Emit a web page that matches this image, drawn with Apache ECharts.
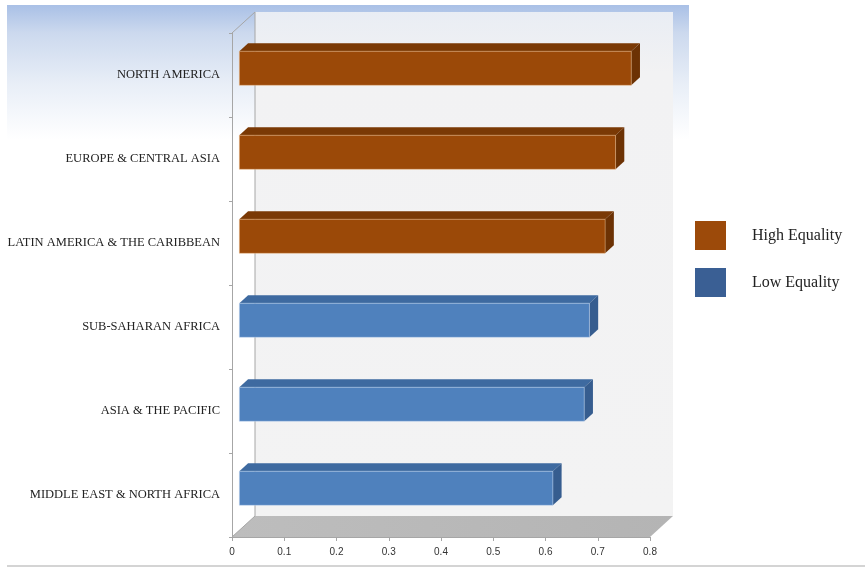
<!DOCTYPE html>
<html>
<head>
<meta charset="utf-8">
<title>Equality by region</title>
<script src="https://cdn.jsdelivr.net/npm/echarts@6/dist/echarts.min.js"></script>
<style>
  html, body { margin: 0; padding: 0; background: #ffffff; }
  #chart { width: 865px; height: 570px; }
</style>
</head>
<body>
<div id="chart"></div>
<script>
// Regions, top to bottom
const categories = [
  'NORTH AMERICA',
  'EUROPE & CENTRAL ASIA',
  'LATIN AMERICA & THE CARIBBEAN',
  'SUB-SAHARAN AFRICA',
  'ASIA & THE PACIFIC',
  'MIDDLE EAST & NORTH AFRICA'
];
// Index values per region, split by group (null = not in group)
const highEquality = [0.75, 0.72, 0.70, null, null, null];
const lowEquality  = [null, null, null, 0.67, 0.66, 0.60];
// Value axis ticks
const axisMin = 0;
const axisMax = 0.8;
const axisStep = 0.1;

// Plot frame
const GRID = { left: 232, right: 215, top: 33, bottom: 33 };
const W = 865, H = 570;
// Oblique depth of the 3-D box (back wall offset from front plane)
const DX = 23, DY = -21;
// Bar slab sits between these depth fractions
const F0 = 0.32, F1 = 0.70;
const BAR_RATIO = 0.405;

function toSeriesData(values) {
  const out = [];
  values.forEach((v, i) => { if (v != null) out.push([v, i]); });
  return out;
}

function makeBarRenderer(front, top, side, edge) {
  return function (params, api) {
    const idx = api.value(1);
    const v = api.value(0);
    const p0 = api.coord([0, idx]);
    const p1 = api.coord([v, idx]);
    const band = api.size([0, 1])[1];
    const h = band * BAR_RATIO;
    const fx = DX * F0, fy = DY * F0;
    const ddx = DX * (F1 - F0), ddy = DY * (F1 - F0);
    const x0 = p0[0] + fx, x1 = p1[0] + fx;
    const yT = p0[1] + fy - h / 2, yB = yT + h;
    return {
      type: 'group',
      children: [
        {
          type: 'polygon',
          shape: { points: [[x0, yT], [x1, yT], [x1 + ddx, yT + ddy], [x0 + ddx, yT + ddy]] },
          style: { fill: top }
        },
        {
          type: 'polygon',
          shape: { points: [[x1, yT], [x1 + ddx, yT + ddy], [x1 + ddx, yB + ddy], [x1, yB]] },
          style: { fill: side }
        },
        {
          type: 'rect',
          shape: { x: x0, y: yT, width: x1 - x0, height: h },
          style: { fill: front, stroke: edge, lineWidth: 1 }
        }
      ]
    };
  };
}

const plotL = GRID.left, plotR = W - GRID.right;
const plotT = GRID.top, plotB = H - GRID.bottom;

const chart = echarts.init(document.getElementById('chart'), null, { renderer: 'canvas' });

chart.setOption({
  animation: false,
  backgroundColor: '#ffffff',
  graphic: [
    // soft blue page backdrop fading downward
    {
      type: 'rect', z: -20, silent: true,
      shape: { x: 7, y: 5, width: 682, height: 560 },
      style: {
        fill: new echarts.graphic.LinearGradient(0, 0, 0, 1, [
          { offset: 0, color: '#a9c0e6' },
          { offset: 0.05, color: '#ccd9ee' },
          { offset: 0.14, color: '#e8eef7' },
          { offset: 0.24, color: '#ffffff' },
          { offset: 1, color: '#ffffff' }
        ])
      }
    },
    // back wall
    {
      type: 'rect', z: -15, silent: true,
      shape: { x: plotL + DX, y: plotT + DY, width: plotR - plotL, height: plotB - plotT },
      style: {
        fill: new echarts.graphic.LinearGradient(0, 0, 0, 1, [
          { offset: 0, color: '#e9edf4' },
          { offset: 0.12, color: '#f2f2f3' },
          { offset: 1, color: '#f3f3f3' }
        ])
      }
    },
    // floor
    {
      type: 'polygon', z: -14, silent: true,
      shape: { points: [[plotL, plotB], [plotR, plotB], [plotR + DX, plotB + DY], [plotL + DX, plotB + DY]] },
      style: {
        fill: new echarts.graphic.LinearGradient(0, 0, 1, 0, [
          { offset: 0, color: '#bdbdbd' },
          { offset: 1, color: '#b4b4b4' }
        ])
      }
    },
    // side-wall edges
    {
      type: 'polyline', z: -13, silent: true,
      shape: { points: [[plotL, plotT], [plotL + DX, plotT + DY], [plotL + DX, plotB + DY], [plotL, plotB]] },
      style: { stroke: '#a6a6a6', lineWidth: 1, fill: null }
    },
    // bottom rule
    {
      type: 'rect', z: -12, silent: true,
      shape: { x: 7, y: 565, width: 858, height: 2 },
      style: { fill: '#d4d4d4' }
    }
  ],
  grid: {
    left: GRID.left, right: GRID.right, top: GRID.top, bottom: GRID.bottom,
    containLabel: false
  },
  legend: {
    orient: 'vertical',
    left: 695,
    top: 221,
    padding: 0,
    itemWidth: 31,
    itemHeight: 29,
    itemGap: 18,
    icon: 'rect',
    selectedMode: false,
    data: [
      { name: 'High Equality', itemStyle: { color: '#9c4a0a' } },
      { name: 'Low Equality', itemStyle: { color: '#3a5f94' } }
    ],
    formatter: name => '{t|' + name + '}',
    textStyle: {
      rich: {
        t: {
          fontFamily: 'Liberation Serif',
          fontSize: 16,
          color: '#222',
          padding: [0, 0, 0, 21]
        }
      }
    }
  },
  xAxis: {
    type: 'value',
    min: axisMin,
    max: axisMax,
    interval: axisStep,
    splitLine: { show: false },
    axisLine: { show: true, lineStyle: { color: '#a6a6a6' } },
    axisTick: { show: true, length: 4, lineStyle: { color: '#a6a6a6' } },
    axisLabel: {
      fontFamily: 'Liberation Sans',
      fontSize: 10,
      color: '#333',
      margin: 10,
      formatter: v => String(+v.toFixed(1))
    }
  },
  yAxis: {
    type: 'category',
    data: categories,
    inverse: true,
    axisLine: { show: true, lineStyle: { color: '#a6a6a6' } },
    axisTick: { show: true, length: 3, lineStyle: { color: '#a6a6a6' } },
    axisLabel: {
      fontFamily: 'Liberation Serif',
      fontSize: 12.5,
      color: '#222',
      margin: 12
    },
    splitLine: { show: false }
  },
  series: [
    {
      name: 'High Equality',
      type: 'custom',
      itemStyle: { color: '#9c4a0a' },
      encode: { x: 0, y: 1 },
      clip: false,
      renderItem: makeBarRenderer('#9b4908', '#7a3905', '#6c3204', 'rgba(240,190,140,0.45)'),
      data: toSeriesData(highEquality)
    },
    {
      name: 'Low Equality',
      type: 'custom',
      itemStyle: { color: '#3a5f94' },
      encode: { x: 0, y: 1 },
      clip: false,
      renderItem: makeBarRenderer('#4f81bd', '#3e6aa0', '#365d8f', 'rgba(200,220,245,0.45)'),
      data: toSeriesData(lowEquality)
    }
  ]
});
</script>
</body>
</html>
